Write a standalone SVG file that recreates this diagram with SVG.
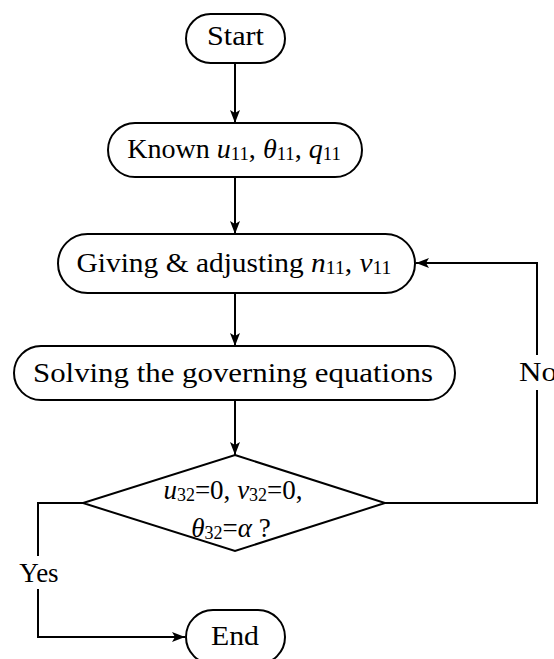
<svg xmlns="http://www.w3.org/2000/svg" width="554" height="659" viewBox="0 0 554 659">
<style>
.box{fill:#fff;stroke:#000;stroke-width:2}
.ln{fill:none;stroke:#000;stroke-width:2}
.t{font-family:"Liberation Serif","Times New Roman",serif;font-size:27px;fill:#000;text-anchor:middle}
.i{font-style:italic}
.s{font-size:18px}
</style>
<defs>
<marker id="ah" viewBox="0 0 13 10" refX="13" refY="5" markerWidth="13" markerHeight="10" markerUnits="userSpaceOnUse" orient="auto">
<path d="M0,0 L13,5 L0,10 L3,5 z" fill="#000"/>
</marker>
</defs>
<rect width="554" height="659" fill="#fff"/>
<g id="connectors">
<line class="ln" x1="235" y1="63" x2="235" y2="123" marker-end="url(#ah)"/>
<line class="ln" x1="235" y1="177" x2="235" y2="234" marker-end="url(#ah)"/>
<line class="ln" x1="235" y1="293" x2="235" y2="346" marker-end="url(#ah)"/>
<line class="ln" x1="235" y1="400" x2="235" y2="455" marker-end="url(#ah)"/>
<polyline class="ln" points="385,503 537,503 537,390"/>
<polyline class="ln" points="537,355 537,263 416,263" marker-end="url(#ah)"/>
<polyline class="ln" points="83,503 38,503 38,556"/>
<polyline class="ln" points="38,589 38,637 185,637" marker-end="url(#ah)"/>
<text class="t" x="519" y="381" style="text-anchor:start" textLength="38" lengthAdjust="spacingAndGlyphs">No</text>
<text class="t" x="39" y="582">Yes</text>
</g>
<g id="start">
<rect class="box" x="186" y="14" width="99" height="49" rx="24.5"/>
<text class="t" x="235.5" y="45" textLength="57" lengthAdjust="spacingAndGlyphs">Start</text>
</g>
<g id="known">
<rect class="box" x="108" y="123" width="254" height="54" rx="27"/>
<text class="t" x="234" y="158" transform="translate(234,0) scale(1.04,1) translate(-234,0)">Known <tspan class="i">u</tspan><tspan class="s" dy="2">11</tspan><tspan dy="-2">, </tspan><tspan class="i">θ</tspan><tspan class="s" dy="2">11</tspan><tspan dy="-2">, </tspan><tspan class="i">q</tspan><tspan class="s" dy="2">11</tspan></text>
</g>
<g id="giving">
<rect class="box" x="58" y="234" width="357" height="59" rx="29.5"/>
<text class="t" x="234" y="272" transform="translate(234,0) scale(1.09,1) translate(-234,0)">Giving &amp; adjusting <tspan class="i">n</tspan><tspan class="s" dy="2">11</tspan><tspan dy="-2">, </tspan><tspan class="i">v</tspan><tspan class="s" dy="2">11</tspan></text>
</g>
<g id="solving">
<rect class="box" x="14" y="346" width="441" height="54" rx="27"/>
<text class="t" x="233" y="382" textLength="400" lengthAdjust="spacingAndGlyphs">Solving the governing equations</text>
</g>
<g id="decision">
<polygon class="box" points="235,455 385,503 235,551 83,503"/>
<text class="t" x="233" y="499"><tspan class="i">u</tspan><tspan class="s" dy="2">32</tspan><tspan dy="-2">=0, </tspan><tspan class="i">v</tspan><tspan class="s" dy="2">32</tspan><tspan dy="-2">=0,</tspan></text>
<text class="t" x="231" y="537"><tspan class="i">θ</tspan><tspan class="s" dy="2">32</tspan><tspan dy="-2">=</tspan><tspan class="i">α</tspan><tspan> ?</tspan></text>
</g>
<g id="end">
<rect class="box" x="186" y="610" width="99" height="54" rx="27"/>
<text class="t" x="235" y="645" textLength="48" lengthAdjust="spacingAndGlyphs">End</text>
</g>
</svg>
